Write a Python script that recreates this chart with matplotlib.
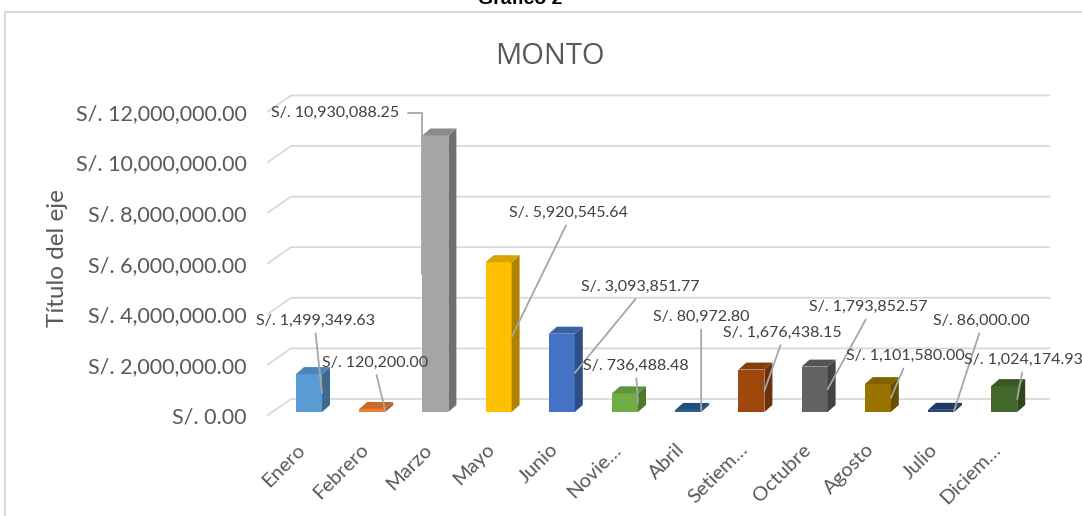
import matplotlib
matplotlib.use("Agg")
import matplotlib.pyplot as plt
from matplotlib.patches import Rectangle, Polygon
from matplotlib.ticker import FuncFormatter, FixedLocator
from matplotlib.transforms import ScaledTranslation

# ---------------- data ----------------
months = ["Enero", "Febrero", "Marzo", "Mayo", "Junio", "Novie\u2026", "Abril",
          "Setiem\u2026", "Octubre", "Agosto", "Julio", "Diciem\u2026"]
amounts = [1499349.63, 120200.00, 10930088.25, 5920545.64, 3093851.77,
           736488.48, 80972.80, 1676438.15, 1793852.57, 1101580.00,
           86000.00, 1024174.93]
colors = ["#5B9BD5", "#ED7D31", "#A5A5A5", "#FFC000", "#4472C4", "#70AD47",
          "#255E91", "#9E480E", "#636363", "#997300", "#264478", "#43682B"]
yticks = [0, 2e6, 4e6, 6e6, 8e6, 10e6, 12e6]
title = "MONTO"
ylabel = "Título del eje"

# label offsets (pixels) relative to leader end point
label_offsets = [(-7, 72), (-10, 48), (0, 0), (57, 124), (65, 86), (-2, 37),
                 (0, 94), (18, 58), (41, 82), (15, 42), (27, 90), (6, 39)]

W, H = 1082, 516
DPI = 100
fig = plt.figure(figsize=(W / DPI, H / DPI), dpi=DPI)
FONT = ["Lato", "DejaVu Sans"]
plt.rcParams["font.family"] = FONT

# axes region in pixels
px_l, px_r, px_t, px_b = 265, 1050, 90, 420
ax = fig.add_axes([px_l / W, 1 - px_b / H, (px_r - px_l) / W, (px_b - px_t) / H])
cat_px = 63.2      # pixels per category
x0_px = 309        # pixel of first category
val_px = 25.3e-6   # pixels per unit value
base_px = 412
ax.set_xlim((px_l - x0_px) / cat_px, (px_r - x0_px) / cat_px)
ax.set_ylim((base_px - px_b) / val_px, (base_px - px_t) / val_px)
for s in ax.spines.values():
    s.set_visible(False)
ax.patch.set_alpha(0)

# gridlines (pseudo 3D back wall)
grid_c = "#D9D9D9"
gx_front, gx_back = (268 - x0_px) / cat_px, (291 - x0_px) / cat_px
gx_end = (1050 - x0_px) / cat_px
for t in yticks:
    yb = t + 13 / val_px
    yf = t - 3 / val_px
    ax.plot([gx_front, gx_back, gx_end], [yf, yb, yb], color=grid_c, lw=1.3,
            zorder=0, solid_joinstyle="miter")


def shade(c, f):
    r, g, b = matplotlib.colors.to_rgb(c)
    return (r * f, g * f, b * f)


bw = 26 / cat_px
dx = 8 / cat_px
dy = 7 / val_px
for i, (v, c) in enumerate(zip(amounts, colors)):
    x0, x1 = i - bw / 2, i + bw / 2
    ax.add_patch(Rectangle((x0, 0), bw, v, facecolor=c, edgecolor="none", zorder=2))
    ax.add_patch(Polygon([(x1, 0), (x1 + dx, dy), (x1 + dx, v + dy), (x1, v)],
                         closed=True, facecolor=shade(c, 0.68), edgecolor="none", zorder=2))
    ax.add_patch(Polygon([(x0, v), (x1, v), (x1 + dx, v + dy), (x0 + dx, v + dy)],
                         closed=True, facecolor=shade(c, 0.85), edgecolor="none", zorder=2))

# data labels with leader lines
lab_c = "#404040"
lead_c = "#A6A6A6"
for i, v in enumerate(amounts):
    txt = f"S/. {v:,.2f}"
    if i == 2:
        ax.annotate(txt, xy=(i - bw / 2, v / 2), xytext=(-87, 161),
                    textcoords="offset pixels", ha="center", va="center",
                    fontsize=11.5, color=lab_c,
                    arrowprops=dict(arrowstyle="-", color=lead_c, lw=1.3,
                                    relpos=(1, 0.5), shrinkA=4, shrinkB=0,
                                    connectionstyle="angle,angleA=0,angleB=90,rad=0"),
                    zorder=4)
    else:
        ox, oy = label_offsets[i]
        ax.annotate(txt, xy=(i + bw / 2, v / 2), xytext=(ox, oy),
                    textcoords="offset pixels", ha="center", va="center",
                    fontsize=11.5, color=lab_c,
                    arrowprops=dict(arrowstyle="-", color=lead_c, lw=1.3,
                                    relpos=(0.5, 0), shrinkA=2, shrinkB=0),
                    zorder=4)

# ticks
ax.yaxis.set_major_locator(FixedLocator(yticks))
ax.yaxis.set_major_formatter(FuncFormatter(lambda v, p: f"S/. {v:,.2f}"))
ax.set_xticks(range(len(months)))
ax.set_xticklabels(months, rotation=45, ha="right", va="top", rotation_mode="anchor")
ax.tick_params(axis="both", length=0, labelcolor="#595959")
ax.tick_params(axis="y", pad=13, labelsize=15.5)
ax.tick_params(axis="x", pad=6, labelsize=14.5)
ydown = ScaledTranslation(0, -4 / 72, fig.dpi_scale_trans)
for lbl in ax.get_yticklabels():
    lbl.set_va("center")
    lbl.set_transform(lbl.get_transform() + ydown)
xshift = ScaledTranslation(-9 / 72, -9 / 72, fig.dpi_scale_trans)
for lbl in ax.get_xticklabels():
    lbl.set_transform(lbl.get_transform() + xshift)

# titles
fig.text(550 / W, 1 - 57 / H, title, ha="center", va="center", fontsize=21,
         color="#595959", family=["Open Sans", "DejaVu Sans"])
fig.text(57 / W, 1 - 258 / H, ylabel, ha="center", va="center", rotation=90,
         fontsize=17.5, color="#595959")
fig.text(520 / W, 1 - 4 / H, "Gráfico 2", ha="center", va="baseline",
         fontsize=14, fontweight="bold", color="black",
         family=["Liberation Sans", "DejaVu Sans"])

# chart border
fig.add_artist(Rectangle((5 / W, -0.2), 1.3, 1.2 - 12 / H, transform=fig.transFigure,
                         fill=False, edgecolor="#D9D9D9", lw=1.5))

fig.savefig("out.png", dpi=DPI, facecolor="white")
